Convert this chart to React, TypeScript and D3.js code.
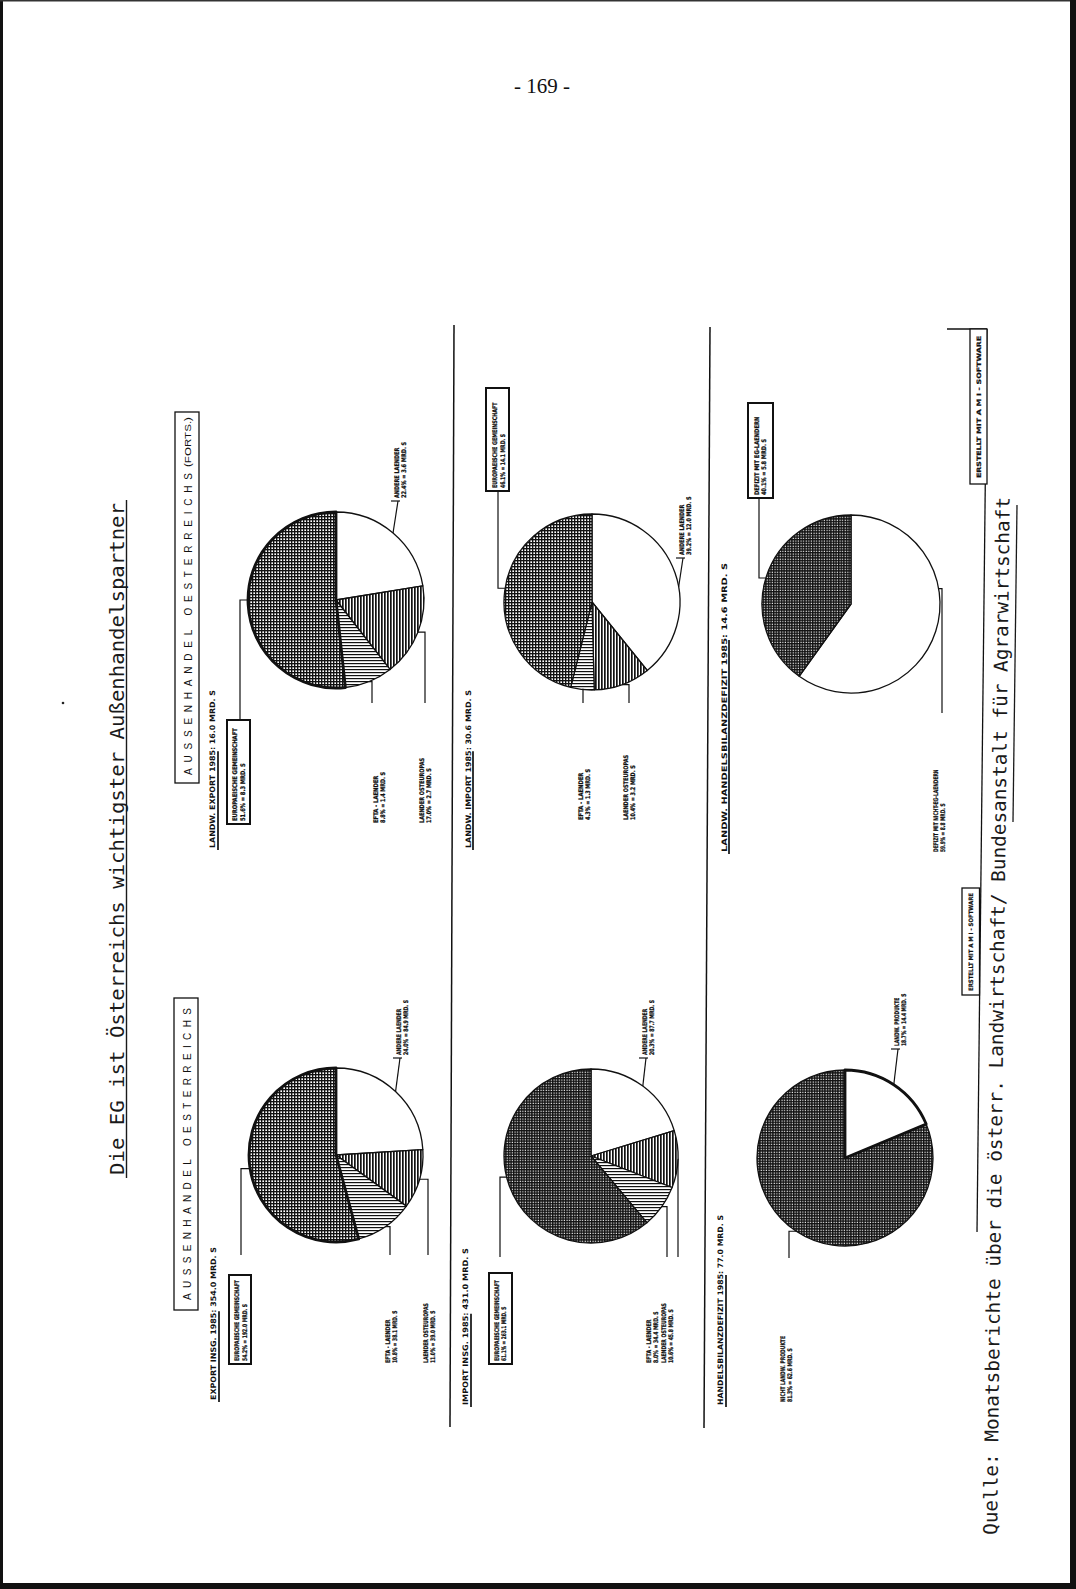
import React from "react";
import * as d3 from "d3";

const W = 1076;
const H = 1589;

// ---------- data ----------
const tradeCategories = ["ANDERE LAENDER", "LAENDER OSTEUROPAS", "EFTA - LAENDER", "EUROPAEISCHE GEMEINSCHAFT"];
const exportShares = [24.0, 11.0, 10.8, 54.2];
const exportAmounts = [84.9, 39.0, 38.1, 192.0];
const importShares = [20.3, 10.6, 8.0, 61.1];
const importAmounts = [87.7, 45.8, 34.4, 263.1];
const deficitCategories = ["LANDW. PRODUKTE", "NICHT LANDW. PRODUKTE"];
const deficitShares = [18.7, 81.3];
const deficitAmounts = [14.4, 62.6];
const agrExportShares = [22.4, 17.0, 8.8, 51.6];
const agrExportAmounts = [3.6, 2.7, 1.4, 8.3];
const agrImportShares = [39.2, 10.4, 4.3, 46.1];
const agrImportAmounts = [12.0, 3.2, 1.3, 14.1];
const agrDeficitCategories = ["DEFIZIT MIT NICHT-EG-LAENDERN", "DEFIZIT MIT EG-LAENDERN"];
const agrDeficitShares = [59.9, 40.1];
const agrDeficitAmounts = [8.8, 5.8];
const chartTitles = [
  "EXPORT INSG. 1985",
  "IMPORT INSG. 1985",
  "HANDELSBILANZDEFIZIT 1985",
  "LANDW. EXPORT 1985",
  "LANDW. IMPORT 1985",
  "LANDW. HANDELSBILANZDEFIZIT 1985",
];
const chartTotals = [354.0, 431.0, 77.0, 16.0, 30.6, 14.6];
const pageTitle = "Die EG ist Österreichs wichtigster Außenhandelspartner";
const sectionTitle = "AUSSENHANDEL OESTERREICHS";
const sourceText = "Quelle: Monatsberichte über die österr. Landwirtschaft/ Bundesanstalt für Agrarwirtschaft";
const softwareNote = "ERSTELLT MIT A M I - SOFTWARE";
const pageNumber = "- 169 -";

const pieData = [
  { cats: tradeCategories, shares: exportShares, amounts: exportAmounts },
  { cats: tradeCategories, shares: importShares, amounts: importAmounts },
  { cats: deficitCategories, shares: deficitShares, amounts: deficitAmounts },
  { cats: tradeCategories, shares: agrExportShares, amounts: agrExportAmounts },
  { cats: tradeCategories, shares: agrImportShares, amounts: agrImportAmounts },
  { cats: agrDeficitCategories, shares: agrDeficitShares, amounts: agrDeficitAmounts },
];

// ---------- layout (screen coordinates, page is rotated) ----------
type Leader = { type: "elbow" | "tick"; angle?: number; jogX?: number; endY?: number };
type LabelLayout = { lines: [number, number]; y0: number; k: number; box?: [number, number, number, number]; leader: Leader };
type PieLayout = {
  cx: number; cy: number; r: number; fills: string[]; thick: number;
  title: { x: number; y0: number; len: number; ulX: number };
  labels: LabelLayout[];
};

const FOUR = ["#ffffff", "url(#hv)", "url(#hh)", "url(#gm)"];
const FOUR_D = ["#ffffff", "url(#hv)", "url(#hh)", "url(#gd)"];
const TWO = ["#ffffff", "url(#gd)"];

const layouts: PieLayout[] = [
  {
    cx: 336, cy: 1155, r: 87, fills: FOUR, thick: 3,
    title: { x: 213, y0: 1400, len: 153, ulX: 219 },
    labels: [
      { lines: [399, 406], y0: 1055, k: 3.4, leader: { type: "tick" } },
      { lines: [426, 433], y0: 1363, k: 3.4, leader: { type: "elbow", jogX: 428, endY: 1255 } },
      { lines: [388, 395], y0: 1363, k: 3.4, leader: { type: "elbow", jogX: 390, endY: 1255 } },
      { lines: [237, 244.5], y0: 1361, k: 3.4, box: [229, 1275, 251, 1364], leader: { type: "elbow", angle: 261, jogX: 241, endY: 1255 } },
    ],
  },
  {
    cx: 591, cy: 1156, r: 87, fills: FOUR_D, thick: -1,
    title: { x: 465, y0: 1405, len: 157, ulX: 471 },
    labels: [
      { lines: [645, 652], y0: 1055, k: 3.4, leader: { type: "tick" } },
      { lines: [664, 671], y0: 1363, k: 3.4, leader: { type: "elbow", jogX: 678, endY: 1257 } },
      { lines: [649, 656], y0: 1363, k: 3.4, leader: { type: "elbow", jogX: 667, endY: 1257 } },
      { lines: [497, 504], y0: 1361, k: 3.4, box: [489, 1273, 512, 1364], leader: { type: "elbow", angle: 256, jogX: 500, endY: 1257 } },
    ],
  },
  {
    cx: 845, cy: 1158, r: 88, fills: TWO, thick: 0,
    title: { x: 720, y0: 1405, len: 190, ulX: 726 },
    labels: [
      { lines: [897, 904], y0: 1046, k: 3.4, leader: { type: "tick" } },
      { lines: [783, 790], y0: 1402, k: 3.4, leader: { type: "elbow", jogX: 789, endY: 1258 } },
    ],
  },
  {
    cx: 336, cy: 600, r: 88, fills: FOUR, thick: 3,
    title: { x: 212, y0: 848, len: 158, ulX: 218 },
    labels: [
      { lines: [397, 404], y0: 498, k: 3.7, leader: { type: "tick" } },
      { lines: [422, 429], y0: 823, k: 3.7, leader: { type: "elbow", jogX: 425, endY: 703 } },
      { lines: [376, 383], y0: 823, k: 3.7, leader: { type: "elbow", jogX: 372, endY: 703 } },
      { lines: [235, 243], y0: 821, k: 3.9, box: [227, 720, 250, 824], leader: { type: "elbow", angle: 270, jogX: 240, endY: 720 } },
    ],
  },
  {
    cx: 592, cy: 602, r: 88, fills: FOUR, thick: -1,
    title: { x: 468, y0: 848, len: 158, ulX: 473 },
    labels: [
      { lines: [682, 689], y0: 555, k: 3.7, leader: { type: "tick", angle: 80 } },
      { lines: [626, 633], y0: 820, k: 3.7, leader: { type: "elbow", jogX: 629, endY: 703 } },
      { lines: [581, 588], y0: 820, k: 3.7, leader: { type: "elbow", jogX: 583, endY: 703 } },
      { lines: [495, 502.5], y0: 488, k: 3.6, box: [486, 388, 509, 491], leader: { type: "elbow", angle: 279, jogX: 498, endY: 491 } },
    ],
  },
  {
    cx: 851, cy: 604, r: 89, fills: TWO, thick: -1,
    title: { x: 724, y0: 852, len: 289, ulX: 729 },
    labels: [
      { lines: [936, 943], y0: 852, k: 3.2, leader: { type: "elbow", angle: 80, jogX: 942, endY: 713 } },
      { lines: [757, 764], y0: 495, k: 3.8, box: [748, 403, 773, 498], leader: { type: "elbow", angle: 287, jogX: 759, endY: 498 } },
    ],
  },
];

const LABEL_FONT = "'Liberation Sans Narrow', 'DejaVu Sans Condensed', 'Arial Narrow', 'Liberation Sans', sans-serif";
const MONO_FONT = "'DejaVu Sans Mono', 'Liberation Mono', monospace";

function estLen(s: string, k: number) {
  let n = 0;
  for (const c of s) n += " .-:,1I".includes(c) ? 0.6 : 1;
  return n * k;
}

function VText(props: {
  cx: number; y0: number; text: string; size: number; len?: number; family: string;
  weight?: string | number; adjust?: string; rot?: number; fill?: string; thicken?: number;
}) {
  const { cx, y0, text, size, len, family, weight = "normal", adjust = "spacingAndGlyphs", rot = -90, fill = "#111", thicken = 0 } = props;
  const bx = cx + size * 0.36;
  return (
    <text
      transform={`translate(${bx},${y0}) rotate(${rot})`}
      fontSize={size}
      fontFamily={family}
      fontWeight={weight as any}
      textLength={len}
      lengthAdjust={len ? (adjust as any) : undefined}
      fill={fill}
      stroke={thicken > 0 ? fill : undefined}
      strokeWidth={thicken > 0 ? thicken : undefined}
    >
      {text}
    </text>
  );
}

function Pie({ idx }: { idx: number }) {
  const d = pieData[idx];
  const L = layouts[idx];
  const arcs = d3.pie<number>().sort(null).value((v) => v)(d.shares);
  const arcGen = d3.arc<d3.PieArcDatum<number>>().innerRadius(0).outerRadius(L.r);
  const line = d3.line();
  const fmt = d3.format(".1f");
  const titleText = `${chartTitles[idx]}: ${fmt(chartTotals[idx])} MRD. S`;
  const ulLen = L.title.len * ((chartTitles[idx].length + 1) / titleText.length);

  return (
    <g>
      {/* chart subtitle */}
      <VText cx={L.title.x} y0={L.title.y0} text={titleText} size={7.5} len={L.title.len} family={LABEL_FONT} weight="bold" />
      <line x1={L.title.ulX} x2={L.title.ulX} y1={L.title.y0 + 2} y2={L.title.y0 - ulLen} stroke="#111" strokeWidth={1.7} />

      {/* slices */}
      <g transform={`translate(${L.cx},${L.cy})`}>
        {arcs.map((a, i) => (
          <path key={i} d={arcGen(a) || ""} fill={L.fills[i]} stroke="#111" strokeWidth={1.3} strokeLinejoin="round" />
        ))}
        {L.thick >= 0 && (
          <path d={arcGen(arcs[L.thick]) || ""} fill="none" stroke="#111" strokeWidth={2.8} strokeLinejoin="round" />
        )}
      </g>

      {/* labels & leaders */}
      {arcs.map((a, i) => {
        const lab = L.labels[i];
        const ang = lab.leader.angle !== undefined ? (lab.leader.angle * Math.PI) / 180 : (a.startAngle + a.endAngle) / 2;
        const [px, py] = d3.pointRadial(ang, L.r);
        const ex = L.cx + px;
        const ey = L.cy + py;
        const l1 = d.cats[i];
        const l2 = `${fmt(d.shares[i])}% = ${fmt(d.amounts[i])} MRD. S`;
        const leader: JSX.Element[] = [];
        if (lab.leader.type === "elbow") {
          const pts: [number, number][] = [[ex, ey], [lab.leader.jogX!, ey], [lab.leader.jogX!, lab.leader.endY!]];
          leader.push(<path key="l" d={line(pts) || ""} fill="none" stroke="#111" strokeWidth={1.2} />);
        } else {
          const tx = lab.lines[0];
          const ty = lab.y0 + 3;
          leader.push(<path key="l" d={line([[ex, ey], [tx + 1, ty]]) || ""} fill="none" stroke="#111" strokeWidth={1.2} />);
          leader.push(<line key="t" x1={tx - 6} x2={tx + 3} y1={ty} y2={ty} stroke="#111" strokeWidth={1.2} />);
        }
        return (
          <g key={i}>
            {leader}
            {lab.box && (
              <rect x={lab.box[0]} y={lab.box[1]} width={lab.box[2] - lab.box[0]} height={lab.box[3] - lab.box[1]} fill="#fff" stroke="#111" strokeWidth={2} />
            )}
            <VText cx={lab.lines[0]} y0={lab.y0} text={l1} size={6.3} len={estLen(l1, lab.k)} family={LABEL_FONT} weight="bold" thicken={0.25} />
            <VText cx={lab.lines[1]} y0={lab.y0} text={l2} size={6.3} len={estLen(l2, lab.k)} family={LABEL_FONT} weight="bold" thicken={0.25} />
          </g>
        );
      })}
    </g>
  );
}

export default function App() {
  return (
    <svg width={W} height={H} viewBox={`0 0 ${W} ${H}`} style={{ position: "absolute", left: 0, top: 0, background: "#fff" }}>
      <defs>
        <pattern id="hv" width="3" height="3" patternUnits="userSpaceOnUse">
          <rect width="3" height="3" fill="#fff" />
          <rect x="0" y="0" width="1.7" height="3" fill="#111" />
        </pattern>
        <pattern id="hh" width="3" height="3" patternUnits="userSpaceOnUse">
          <rect width="3" height="3" fill="#fff" />
          <rect x="0" y="0" width="3" height="1.2" fill="#111" />
        </pattern>
        <pattern id="gm" width="3" height="3" patternUnits="userSpaceOnUse">
          <rect width="3" height="3" fill="#fff" />
          <rect x="0" y="0" width="3" height="1.35" fill="#111" />
          <rect x="0" y="0" width="1.35" height="3" fill="#111" />
        </pattern>
        <pattern id="gd" width="2.6" height="2.6" patternUnits="userSpaceOnUse">
          <rect width="2.6" height="2.6" fill="#fff" />
          <rect x="0" y="0" width="2.6" height="1.45" fill="#111" />
          <rect x="0" y="0" width="1.45" height="2.6" fill="#111" />
        </pattern>
      </defs>

      <rect x={0} y={0} width={W} height={H} fill="#fff" />

      {/* scan border */}
      <rect x={0} y={0} width={3} height={H} fill="#111" />
      <rect x={0} y={0} width={W} height={1.5} fill="#333" />
      <rect x={W - 6} y={0} width={6} height={H} fill="#111" />
      <rect x={0} y={H - 6} width={W} height={6} fill="#111" />

      {/* page number */}
      <text x={542} y={93} textAnchor="middle" fontFamily="'Liberation Serif', 'DejaVu Serif', serif" fontSize={21} fill="#111">
        {pageNumber}
      </text>

      {/* page title */}
      <VText cx={117} y0={1175} text={pageTitle} size={20} len={672} family={MONO_FONT} fill="#1a1a1a" />
      <line x1={126.5} x2={126.5} y1={1178} y2={500} stroke="#1a1a1a" strokeWidth={1.4} />
      <circle cx={63} cy={703} r={1.3} fill="#222" />

      {/* section header boxes */}
      <rect x={174} y={998} width={24} height={312} fill="#fff" stroke="#111" strokeWidth={1.3} />
      <VText cx={187} y0={1300} text={sectionTitle} size={10} len={292} family="'Liberation Sans', Arial, sans-serif" adjust="spacing" />
      <rect x={175} y={412} width={24} height={371} fill="#fff" stroke="#111" strokeWidth={1.3} />
      <VText cx={188} y0={775} text={sectionTitle} size={10} len={302} family="'Liberation Sans', Arial, sans-serif" adjust="spacing" />
      <VText cx={188} y0={467} text="(FORTS.)" size={9} len={50} family="'Liberation Sans', Arial, sans-serif" />

      {/* row separators */}
      <line x1={454} y1={325} x2={450} y2={1427} stroke="#111" strokeWidth={1.5} />
      <line x1={710} y1={327} x2={704} y2={1428} stroke="#111" strokeWidth={1.5} />

      {/* bottom frame and software notes */}
      <line x1={947} y1={329} x2={987} y2={329} stroke="#111" strokeWidth={1.3} />
      <line x1={987} y1={329} x2={977} y2={1232} stroke="#111" strokeWidth={1.3} />
      <rect x={970} y={329} width={17} height={155} fill="#fff" stroke="#111" strokeWidth={1.3} />
      <VText cx={978.5} y0={478} text={softwareNote} size={6} len={142} family={LABEL_FONT} weight="bold" thicken={0.2} />
      <rect x={962} y={888} width={17.5} height={107} fill="#fff" stroke="#111" strokeWidth={1.3} />
      <VText cx={970.5} y0={991} text={softwareNote} size={6} len={98} family={LABEL_FONT} weight="bold" thicken={0.2} />

      {/* pies */}
      {pieData.map((_, i) => (
        <Pie key={i} idx={i} />
      ))}

      {/* source */}
      <text
        transform={`translate(997,1535) rotate(-89.3)`}
        fontSize={19}
        fontFamily={MONO_FONT}
        fill="#1a1a1a"
        textLength={1038}
        lengthAdjust="spacingAndGlyphs"
      >
        {sourceText}
      </text>
      <line x1={1013} y1={822} x2={1017} y2={505} stroke="#1a1a1a" strokeWidth={1.3} />
    </svg>
  );
}
